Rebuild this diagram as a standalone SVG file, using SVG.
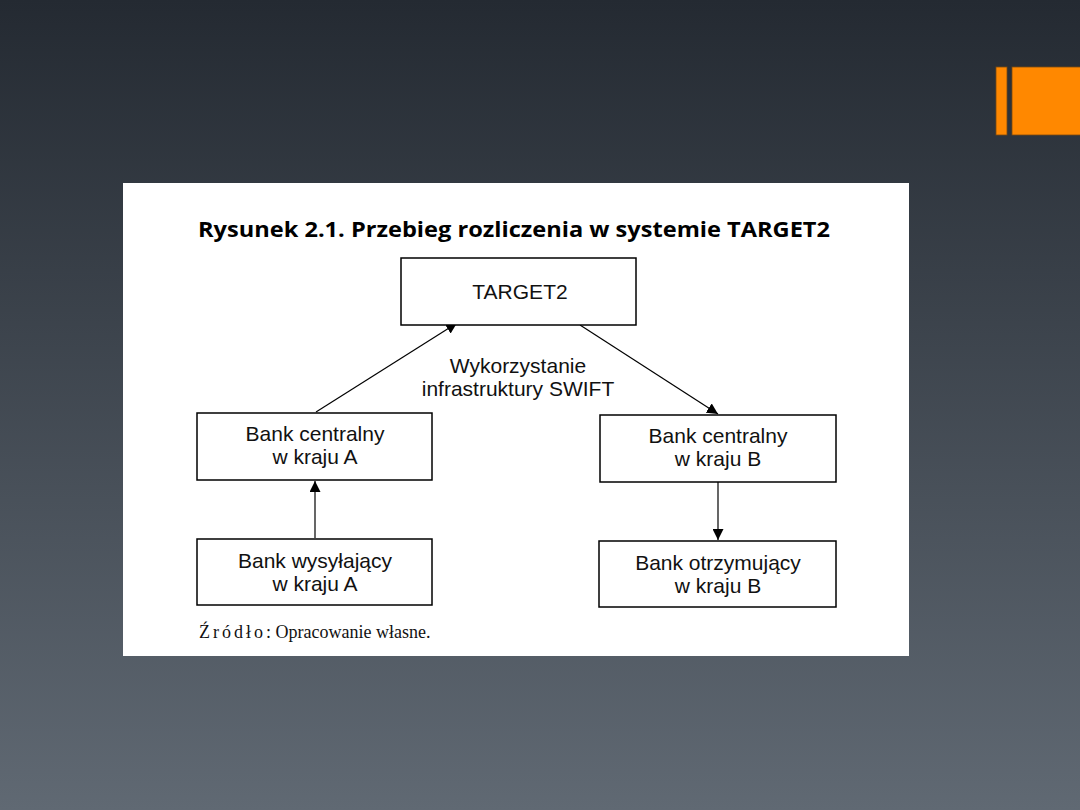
<svg xmlns="http://www.w3.org/2000/svg" width="1080" height="810" viewBox="0 0 1080 810">
<defs>
<linearGradient id="bg" x1="0" y1="0" x2="0" y2="1">
<stop offset="0" stop-color="#242a32"/>
<stop offset="1" stop-color="#606973"/>
</linearGradient>
<marker id="ah" viewBox="0 0 10 10" refX="10" refY="5" markerWidth="11" markerHeight="11" markerUnits="userSpaceOnUse" orient="auto">
<path d="M0,0 L10,5 L0,10 Z" fill="#000"/>
</marker>
<style>
.box{fill:#fff;stroke:#000;stroke-width:1.5}
.t{font-family:"Liberation Sans",Arial,sans-serif;font-size:21px;fill:#111;text-anchor:middle}
.c{stroke:#000;stroke-width:1.2;fill:none;marker-end:url(#ah)}
.src{font-family:"Liberation Serif","Times New Roman",serif;font-size:18px;fill:#111}
</style>
</defs>
<rect width="1080" height="810" fill="url(#bg)"/>
<rect x="996" y="67" width="11" height="68" fill="#ff8800" stroke="#7a4a10" stroke-width="0.8"/>
<rect x="1012" y="67" width="70" height="68" fill="#ff8800" stroke="#7a4a10" stroke-width="0.8"/>
<rect x="123" y="183" width="786" height="473" fill="#fff"/>
<text x="198" y="237" font-family="'Open Sans','Liberation Sans',sans-serif" font-weight="bold" font-size="22" textLength="632" lengthAdjust="spacingAndGlyphs" fill="#000">Rysunek 2.1. Przebieg rozliczenia w systemie TARGET2</text>
<g id="connectors">
<line class="c" x1="316" y1="412" x2="457" y2="323"/>
<line class="c" x1="580" y1="325" x2="718" y2="414"/>
<line class="c" x1="315" y1="538" x2="315" y2="481"/>
<line class="c" x1="718" y1="482" x2="718" y2="540"/>
<text class="t" x="518" y="373">Wykorzystanie</text>
<text class="t" x="518" y="396">infrastruktury SWIFT</text>
</g>
<g id="target2">
<rect class="box" x="401" y="258" width="235" height="67"/>
<text class="t" x="520" y="299">TARGET2</text>
</g>
<g id="bankA">
<rect class="box" x="197" y="413" width="235" height="67"/>
<text class="t" x="315" y="441">Bank centralny</text>
<text class="t" x="315" y="464">w kraju A</text>
</g>
<g id="bankB">
<rect class="box" x="600" y="415" width="236" height="67"/>
<text class="t" x="718" y="443">Bank centralny</text>
<text class="t" x="718" y="466">w kraju B</text>
</g>
<g id="sender">
<rect class="box" x="197" y="539" width="235" height="66"/>
<text class="t" x="315" y="568">Bank wysyłający</text>
<text class="t" x="315" y="591">w kraju A</text>
</g>
<g id="receiver">
<rect class="box" x="599" y="541" width="237" height="66"/>
<text class="t" x="718" y="570">Bank otrzymujący</text>
<text class="t" x="718" y="593">w kraju B</text>
</g>
<text class="src" x="199" y="638"><tspan letter-spacing="3">Źródło</tspan>: Opracowanie własne.</text>
</svg>
